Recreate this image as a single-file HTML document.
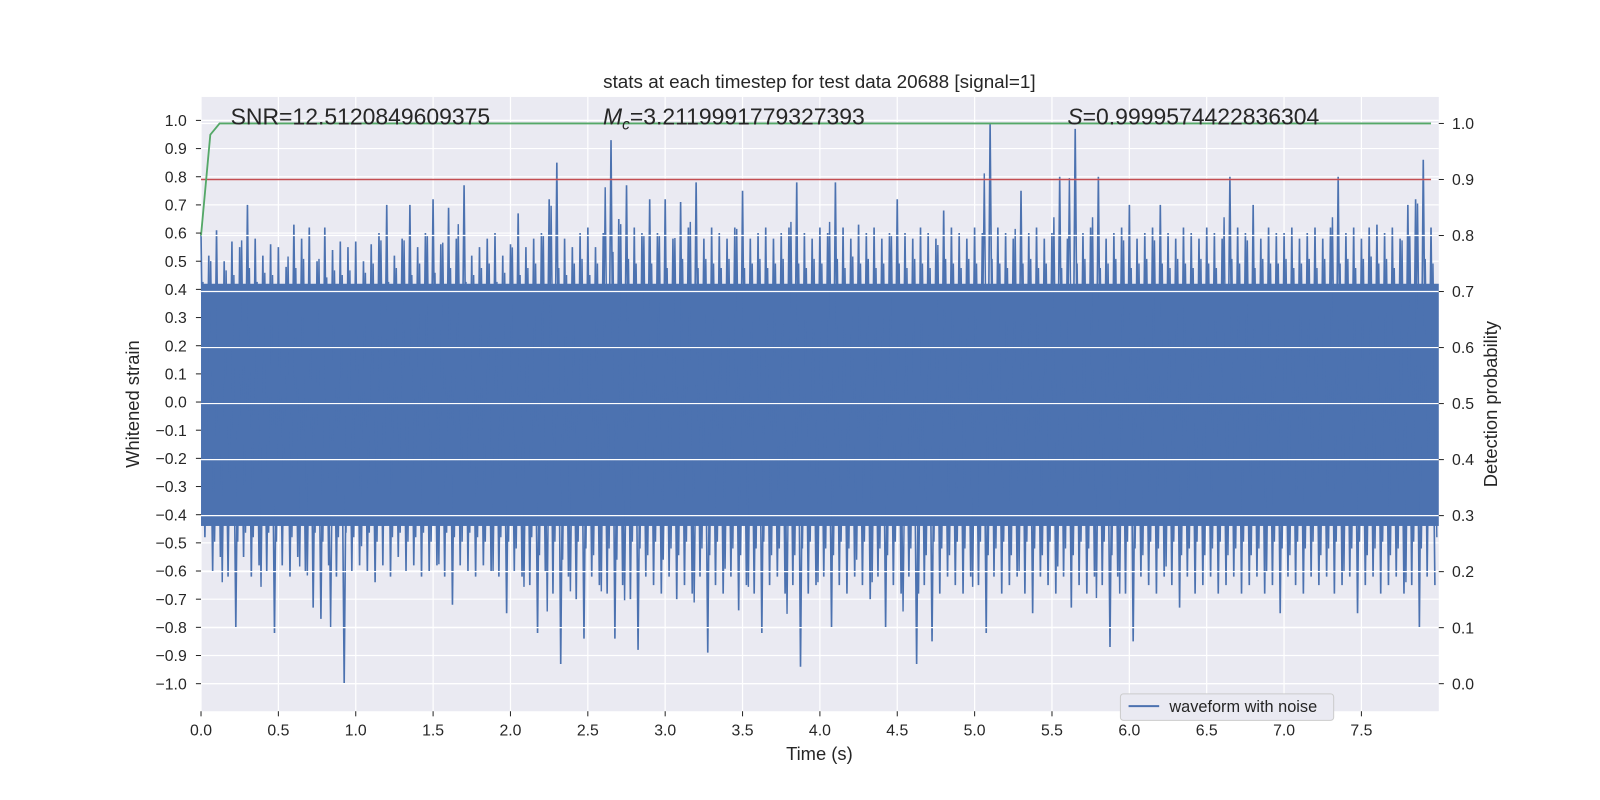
<!DOCTYPE html>
<html><head><meta charset="utf-8">
<style>
html,body{margin:0;padding:0;background:#fff;}
svg{display:block;font-family:"Liberation Sans","DejaVu Sans",sans-serif;}
</style></head>
<body>
<svg id="chart" width="1600" height="800" viewBox="0 0 1568 784" preserveAspectRatio="none">
  <rect x="197" y="95" width="1213" height="602" fill="#eaeaf2"/>
  <g id="grid"></g>
  <g id="series"></g>
  <g id="axes"></g>
  <text x="803" y="86" font-size="18.5" text-anchor="middle" fill="#262626">stats at each timestep for test data 20688 [signal=1]</text>
  <text x="226" y="122" font-size="22.5" fill="#262626">SNR=12.5120849609375</text>
  <text x="591" y="122" font-size="22.5" fill="#262626"><tspan font-style="italic">M</tspan><tspan font-style="italic" font-size="15" dy="5">c</tspan><tspan dy="-5">=3.2119991779327393</tspan></text>
  <text x="1046" y="122" font-size="22.5" fill="#262626"><tspan font-style="italic">S</tspan>=0.9999574422836304</text>
  <text x="803" y="745" font-size="18" text-anchor="middle" fill="#262626">Time (s)</text>
  <text transform="translate(136,396) rotate(-90)" font-size="18" text-anchor="middle" fill="#262626">Whitened strain</text>
  <text transform="translate(1467,396) rotate(-90)" font-size="18" text-anchor="middle" fill="#262626">Detection probability</text>
  <g>
    <rect x="1098" y="680" width="209" height="26" rx="3" fill="#eaeaf2" stroke="#cccccc"/>
    <line x1="1106" y1="692" x2="1136" y2="692" stroke="#4c72b0" stroke-width="2"/>
    <text x="1146" y="698" font-size="16" fill="#262626">waveform with noise</text>
  </g>
</svg>
<script>
const xTicks = [0,0.5,1,1.5,2,2.5,3,3.5,4,4.5,5,5.5,6,6.5,7,7.5];
const yTicks = [-1,-0.9,-0.8,-0.7,-0.6,-0.5,-0.4,-0.3,-0.2,-0.1,0,0.1,0.2,0.3,0.4,0.5,0.6,0.7,0.8,0.9,1];
const y2Ticks = [0,0.1,0.2,0.3,0.4,0.5,0.6,0.7,0.8,0.9,1];
const binWidth = 0.05;
const upperPeaks = [
0.60,0.52,0.61,0.50,0.57,0.55,0.70,0.58,0.52,0.56,
0.55,0.48,0.63,0.58,0.62,0.50,0.62,0.54,0.57,0.55,
0.57,0.50,0.56,0.60,0.70,0.52,0.58,0.70,0.55,0.60,
0.72,0.56,0.69,0.58,0.77,0.52,0.55,0.58,0.60,0.52,
0.56,0.67,0.55,0.58,0.60,0.72,0.85,0.58,0.55,0.60,
0.62,0.55,0.60,0.93,0.65,0.77,0.62,0.60,0.72,0.60,
0.72,0.58,0.71,0.62,0.78,0.58,0.62,0.60,0.58,0.62,
0.75,0.58,0.60,0.62,0.58,0.60,0.62,0.78,0.60,0.58,
0.62,0.60,0.78,0.62,0.58,0.63,0.60,0.62,0.58,0.60,
0.72,0.60,0.58,0.62,0.60,0.58,0.68,0.62,0.60,0.58,
0.62,0.60,0.99,0.62,0.60,0.58,0.75,0.60,0.62,0.58,
0.60,0.80,0.58,0.97,0.60,0.62,0.80,0.58,0.60,0.62,
0.70,0.58,0.60,0.62,0.70,0.60,0.58,0.62,0.60,0.58,
0.62,0.60,0.58,0.80,0.62,0.60,0.70,0.58,0.62,0.60,
0.60,0.62,0.58,0.60,0.62,0.58,0.62,0.80,0.60,0.62,
0.58,0.62,0.63,0.60,0.62,0.58,0.70,0.72,0.86,0.62];
const lowerPeaks = [
-0.48,-0.60,-0.55,-0.62,-0.80,-0.55,-0.62,-0.58,-0.60,-0.82,
-0.58,-0.62,-0.55,-0.60,-0.73,-0.77,-0.58,-0.62,-1.00,-0.60,
-0.58,-0.60,-0.64,-0.58,-0.62,-0.55,-0.60,-0.58,-0.62,-0.60,
-0.58,-0.62,-0.72,-0.58,-0.60,-0.62,-0.58,-0.60,-0.62,-0.75,
-0.60,-0.62,-0.65,-0.82,-0.60,-0.68,-0.93,-0.62,-0.70,-0.84,
-0.62,-0.65,-0.68,-0.84,-0.65,-0.70,-0.88,-0.62,-0.65,-0.68,
-0.62,-0.70,-0.65,-0.68,-0.62,-0.89,-0.65,-0.68,-0.62,-0.74,
-0.65,-0.68,-0.82,-0.65,-0.62,-0.68,-0.65,-0.94,-0.68,-0.65,
-0.62,-0.80,-0.65,-0.68,-0.62,-0.65,-0.70,-0.62,-0.80,-0.65,
-0.68,-0.62,-0.93,-0.65,-0.85,-0.68,-0.62,-0.65,-0.68,-0.62,
-0.65,-0.82,-0.62,-0.68,-0.65,-0.62,-0.68,-0.75,-0.62,-0.65,
-0.68,-0.62,-0.73,-0.65,-0.68,-0.62,-0.65,-0.87,-0.62,-0.68,
-0.85,-0.62,-0.65,-0.68,-0.62,-0.65,-0.73,-0.62,-0.68,-0.65,
-0.62,-0.68,-0.65,-0.62,-0.68,-0.65,-0.62,-0.68,-0.65,-0.75,
-0.62,-0.65,-0.68,-0.62,-0.65,-0.62,-0.68,-0.65,-0.62,-0.75,
-0.65,-0.62,-0.68,-0.65,-0.62,-0.68,-0.65,-0.80,-0.62,-0.65];
const denseBand = [-0.44, 0.42];
const probTimes = [0, 0.06, 0.12, 7.95];
const probValues = [0.80, 0.98, 1.0, 1.0];
const thresholdValue = 0.9;

const NS='http://www.w3.org/2000/svg';
const L=197,R=1410,T=95,B=697;
function sx(t){return L+(t/8.0)*(R-L);}
function sy(v){return 394-v*276;}
function sy2(p){return 670-p*549;}
function mk(tag,attrs,parent){const e=document.createElementNS(NS,tag);for(const k in attrs)e.setAttribute(k,attrs[k]);parent.appendChild(e);return e;}
const grid=document.getElementById('grid'),series=document.getElementById('series'),axes=document.getElementById('axes');

xTicks.forEach(t=>{
  const g=mk('line',{x1:sx(t),x2:sx(t),y1:T,y2:B,stroke:'#fff','stroke-width':1.2},grid);
  
  
  const tk=mk('line',{x1:sx(t),x2:sx(t),y1:B,y2:B+5,stroke:'#262626','stroke-width':1},axes);
  
  
  const tx=mk('text',{x:sx(t),y:B+24,'font-size':15.5,'text-anchor':'middle',fill:'#262626'},axes);
  tx.textContent=t.toFixed(1);
  
  
});
yTicks.forEach(v=>{
  const g=mk('line',{x1:L,x2:R,y1:sy(v),y2:sy(v),stroke:'#fff','stroke-width':1.2},grid);
  
  
  const tk=mk('line',{x1:L-5,x2:L,y1:sy(v),y2:sy(v),stroke:'#262626','stroke-width':1},axes);
  
  
  const tx=mk('text',{x:L-14,y:sy(v)+5.5,'font-size':15.5,'text-anchor':'end',fill:'#262626'},axes);
  tx.textContent=(v<0?'\u2212':'')+Math.abs(v).toFixed(1);
  
  
});

const n=upperPeaks.length;
const band=mk('rect',{x:sx(0),y:sy(denseBand[1]),width:sx(binWidth*n)-sx(0),height:sy(denseBand[0])-sy(denseBand[1]),fill:'#4c72b0'},series);


let d='', d2='';
upperPeaks.forEach((u,i)=>{
  const lo=lowerPeaks[i];
  const x0=sx(i*binWidth), x1=sx(i*binWidth+binWidth*0.5);
  d+=(i===0?'M':'L')+x0.toFixed(1)+','+sy(u).toFixed(1)+'L'+x1.toFixed(1)+','+sy(lo).toFixed(1);
  const un=upperPeaks[(i+1)%n], ln=lowerPeaks[(i+2)%n];
  const x2=sx(i*binWidth+binWidth*0.25), x3=sx(i*binWidth+binWidth*0.75);
  d2+=(i===0?'M':'L')+x2.toFixed(1)+','+sy(0.82*un).toFixed(1)+'L'+x3.toFixed(1)+','+sy(0.8*ln).toFixed(1);
});
const wf2=mk('path',{d:d2,fill:'none',stroke:'#4c72b0','stroke-width':1.4},series);


const wf=mk('path',{d:d,fill:'none',stroke:'#4c72b0','stroke-width':1.6},series);



y2Ticks.forEach(p=>{
  const g=mk('line',{x1:L,x2:R,y1:sy2(p),y2:sy2(p),stroke:'#fff','stroke-width':1.2},series);
  
  
  const tk=mk('line',{x1:R,x2:R+5,y1:sy2(p),y2:sy2(p),stroke:'#262626','stroke-width':1},axes);
  
  
  const tx=mk('text',{x:R+13,y:sy2(p)+5.5,'font-size':15.5,fill:'#262626'},axes);
  tx.textContent=p.toFixed(1);
  
  
});

const th=mk('line',{x1:sx(0),x2:sx(probTimes[probTimes.length-1]),y1:sy2(thresholdValue),y2:sy2(thresholdValue),stroke:'#c44e52','stroke-width':1.5},series);


const pp=probTimes.map((t,i)=>sx(t).toFixed(1)+','+sy2(probValues[i]).toFixed(1)).join(' ');
const pl=mk('polyline',{points:pp,fill:'none',stroke:'#55a868','stroke-width':1.8},series);


</script>
</body></html>
